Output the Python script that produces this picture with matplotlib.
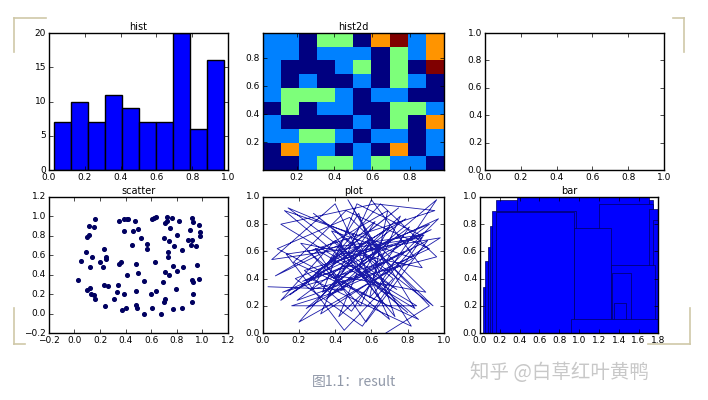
import matplotlib
matplotlib.use("Agg")
import matplotlib.pyplot as plt
import numpy as np

plt.style.use('classic')
plt.rcParams['font.family'] = ['DejaVu Sans', 'Noto Sans CJK SC']
plt.rcParams['font.size'] = 6.5

# hist: 10 bins
hist_edges = [0.03, 0.125, 0.22, 0.315, 0.41, 0.505, 0.60, 0.695, 0.79, 0.885, 0.98]
hist_counts = [7, 10, 7, 11, 9, 7, 7, 20, 6, 16]

# hist2d counts, rows from top (y high) to bottom
h2d_counts = [
    [1, 1, 0, 2, 2, 0, 3, 4, 1, 3],
    [1, 1, 0, 1, 1, 1, 0, 2, 1, 3],
    [1, 0, 0, 0, 1, 2, 0, 2, 0, 4],
    [1, 0, 1, 0, 0, 1, 0, 2, 1, 0],
    [1, 2, 2, 2, 1, 0, 1, 1, 0, 0],
    [0, 2, 0, 1, 1, 0, 0, 2, 2, 1],
    [1, 0, 0, 0, 0, 1, 0, 2, 0, 3],
    [1, 1, 2, 2, 1, 0, 1, 1, 0, 1],
    [0, 3, 1, 1, 0, 1, 0, 3, 0, 1],
    [0, 0, 1, 2, 2, 1, 2, 1, 1, 0],
]
h2d_xedges = np.linspace(0.02, 0.98, 11)
h2d_yedges = np.linspace(0.0, 0.98, 11)

scatter_x = [0.03,0.05,0.09,0.10,0.11,0.11,0.15,0.16,0.14,0.12,0.10,0.12,0.13,0.15,0.16,0.20,0.22,0.23,0.25,0.25,
             0.23,0.26,0.24,0.31,0.33,0.35,0.36,0.34,0.37,0.40,0.39,0.41,0.35,0.39,0.41,0.42,0.39,0.45,0.46,0.47,
             0.50,0.52,0.48,0.50,0.54,0.48,0.48,0.49,0.54,0.57,0.57,0.61,0.62,0.64,0.60,0.61,0.63,0.64,0.68,0.69,
             0.70,0.71,0.70,0.71,0.72,0.72,0.73,0.73,0.71,0.74,0.75,0.76,0.77,0.78,0.79,0.77,0.80,0.82,0.80,0.84,
             0.85,0.84,0.89,0.90,0.91,0.92,0.93,0.92,0.95,0.97,0.98,0.98,0.92,0.93,0.93,0.92,0.96,0.97,0.74]
scatter_y = [0.35,0.54,0.63,0.79,0.81,0.90,0.89,0.97,0.58,0.48,0.24,0.26,0.20,0.19,0.15,0.53,0.48,0.66,0.58,0.56,
             0.29,0.28,0.08,0.15,0.22,0.51,0.53,0.29,0.04,0.06,0.20,0.40,0.95,0.97,0.97,0.97,0.85,0.71,0.85,0.95,
             0.87,0.78,0.51,0.42,0.34,0.23,0.09,0.06,0.00,0.72,0.66,0.97,0.98,0.99,0.20,0.06,0.53,0.23,0.00,0.33,
             0.12,0.15,0.78,0.93,0.95,0.99,0.63,0.58,0.43,0.75,0.88,0.98,0.49,0.70,0.25,0.05,0.81,0.95,0.44,0.65,
             0.48,0.06,0.76,0.86,0.71,0.98,0.94,0.76,0.70,0.91,0.84,0.80,0.35,0.33,0.20,0.12,0.50,0.36,0.40]

plot_x = [0.03,0.45,0.16,0.85,0.10,0.62,0.95,0.25,0.70,0.40,0.05,0.88,0.55,0.18,0.92,0.35,0.68,0.12,0.80,0.50,
          0.22,0.97,0.42,0.60,0.15,0.75,0.30,0.90,0.48,0.08,0.66,0.38,0.83,0.20,0.58,0.94,0.28,0.72,0.45,0.13,
          0.87,0.52,0.33,0.78,0.24,0.96,0.64,0.40,0.10,0.70,0.56,0.86,0.17,0.46,0.92,0.36,0.62,0.26,0.82,0.50,
          0.14,0.74,0.43,0.98,0.32,0.60,0.88,0.21,0.54,0.76,0.39,0.93,0.11,0.67,0.47,0.84,0.29,0.57,0.91,0.44,
          0.19,0.79,0.35,0.65,0.96,0.27,0.53,0.73,0.41,0.07,0.69,0.59,0.89,0.23,0.49,0.81,0.37,0.63,0.92,0.68]
plot_y = [0.34,0.32,0.20,0.20,0.80,0.95,0.90,0.60,0.10,0.95,0.54,0.70,0.05,0.40,0.80,0.25,0.65,0.90,0.15,0.50,
          0.38,0.84,0.12,0.70,0.28,0.92,0.45,0.30,0.85,0.62,0.22,0.75,0.55,0.08,0.66,0.20,0.88,0.40,0.02,0.58,
          0.72,0.95,0.30,0.60,0.18,0.98,0.35,0.68,0.24,0.78,0.45,0.10,0.52,0.90,0.62,0.28,0.82,0.40,0.05,0.72,
          0.92,0.32,0.58,0.70,0.14,0.98,0.48,0.66,0.20,0.86,0.40,0.76,0.30,0.52,0.98,0.18,0.62,0.08,0.68,0.36,
          0.24,0.84,0.50,0.95,0.56,0.32,0.88,0.12,0.64,0.42,0.90,0.26,0.72,0.46,0.16,0.78,0.34,0.60,0.20,0.00]

# bar: left edge, width, height
bar_left = [0.16, 0.37, 0.03, 0.05, 0.08, 0.10, 0.12, 0.16, 1.20, 1.70, 1.75, 0.95, 1.32, 1.33, 1.35, 0.92]
bar_width = [1.59, 1.33, 0.90, 0.90, 0.85, 0.85, 0.85, 0.79, 0.55, 0.10, 0.05, 0.37, 0.45, 0.19, 0.12, 0.88]
bar_height = [0.98, 1.00, 0.34, 0.53, 0.63, 0.79, 0.90, 0.89, 0.95, 0.91, 0.83, 0.77, 0.50, 0.44, 0.22, 0.10]

fig = plt.figure(figsize=(7.08, 4.0), dpi=100, facecolor='white')
ax_hist = fig.add_axes([0.069, 0.575, 0.253, 0.3425])
ax_h2d = fig.add_axes([0.371, 0.575, 0.256, 0.3425])
ax_empty = fig.add_axes([0.685, 0.575, 0.253, 0.3425])
ax_sc = fig.add_axes([0.069, 0.1675, 0.253, 0.34])
ax_pl = fig.add_axes([0.371, 0.1675, 0.256, 0.34])
ax_bar = fig.add_axes([0.678, 0.1675, 0.252, 0.34])

ax_hist.hist(hist_edges[:-1], bins=hist_edges, weights=hist_counts, color='blue')
ax_hist.set_title('hist', fontsize=7, pad=2)
ax_hist.set_xlim(0, 1)

ax_h2d.pcolormesh(h2d_xedges, h2d_yedges, np.array(h2d_counts)[::-1], cmap='jet', vmin=0, vmax=4)
ax_h2d.set_xlim(h2d_xedges[0], h2d_xedges[-1])
ax_h2d.set_ylim(h2d_yedges[0], h2d_yedges[-1])
ax_h2d.set_xticks([0.2, 0.4, 0.6, 0.8])
ax_h2d.set_yticks([0.2, 0.4, 0.6, 0.8])
ax_h2d.set_title('hist2d', fontsize=7, pad=2)

ax_empty.set_xlim(0, 1)
ax_empty.set_ylim(0, 1)

ax_sc.scatter(scatter_x, scatter_y, s=7, color='#000060', edgecolor='#000060')
ax_sc.set_xlim(-0.2, 1.2)
ax_sc.set_ylim(-0.2, 1.2)
ax_sc.set_title('scatter', fontsize=7, pad=2)

ax_pl.plot(plot_x, plot_y, color='#1a1aa8', lw=0.6)
ax_pl.set_xlim(0, 1)
ax_pl.set_ylim(0, 1)
ax_pl.set_title('plot', fontsize=7, pad=2)

ax_bar.bar(bar_left, bar_height, width=bar_width, align='edge', color='blue', edgecolor='#000060', lw=0.5)
ax_bar.set_xlim(0, 1.8)
ax_bar.set_ylim(0, 1.0)
ax_bar.set_title('bar', fontsize=7, pad=2)

for ax in [ax_hist, ax_h2d, ax_empty, ax_sc, ax_pl, ax_bar]:
    ax.tick_params(labelsize=6.5, length=3, pad=2)

# decorations
bracket = '#cfc8a8'
fig.add_artist(plt.Line2D([0.02, 0.065], [0.955, 0.955], color=bracket, lw=1.2))
fig.add_artist(plt.Line2D([0.02, 0.02], [0.955, 0.87], color=bracket, lw=1.2))
fig.add_artist(plt.Line2D([0.966, 0.966], [0.955, 0.87], color=bracket, lw=1.2))
fig.add_artist(plt.Line2D([0.95, 0.966], [0.955, 0.955], color=bracket, lw=1.2))
fig.add_artist(plt.Line2D([0.02, 0.02], [0.23, 0.14], color=bracket, lw=1.2))
fig.add_artist(plt.Line2D([0.02, 0.035], [0.14, 0.14], color=bracket, lw=1.2))
fig.add_artist(plt.Line2D([0.975, 0.975], [0.23, 0.14], color=bracket, lw=1.2))
fig.add_artist(plt.Line2D([0.915, 0.975], [0.14, 0.14], color=bracket, lw=1.2))

fig.text(0.5, 0.045, '图1.1：result', ha='center', va='center', fontsize=10, style='italic',
         color='#9098a8', family=['Noto Sans CJK SC', 'DejaVu Sans'])
fig.text(0.79, 0.07, '知乎 @白草红叶黄鸭', ha='center', va='center', fontsize=14,
         color='#c8c8c8', family=['Noto Sans CJK SC', 'DejaVu Sans'])

fig.savefig('out.png', dpi=100, facecolor='white')
